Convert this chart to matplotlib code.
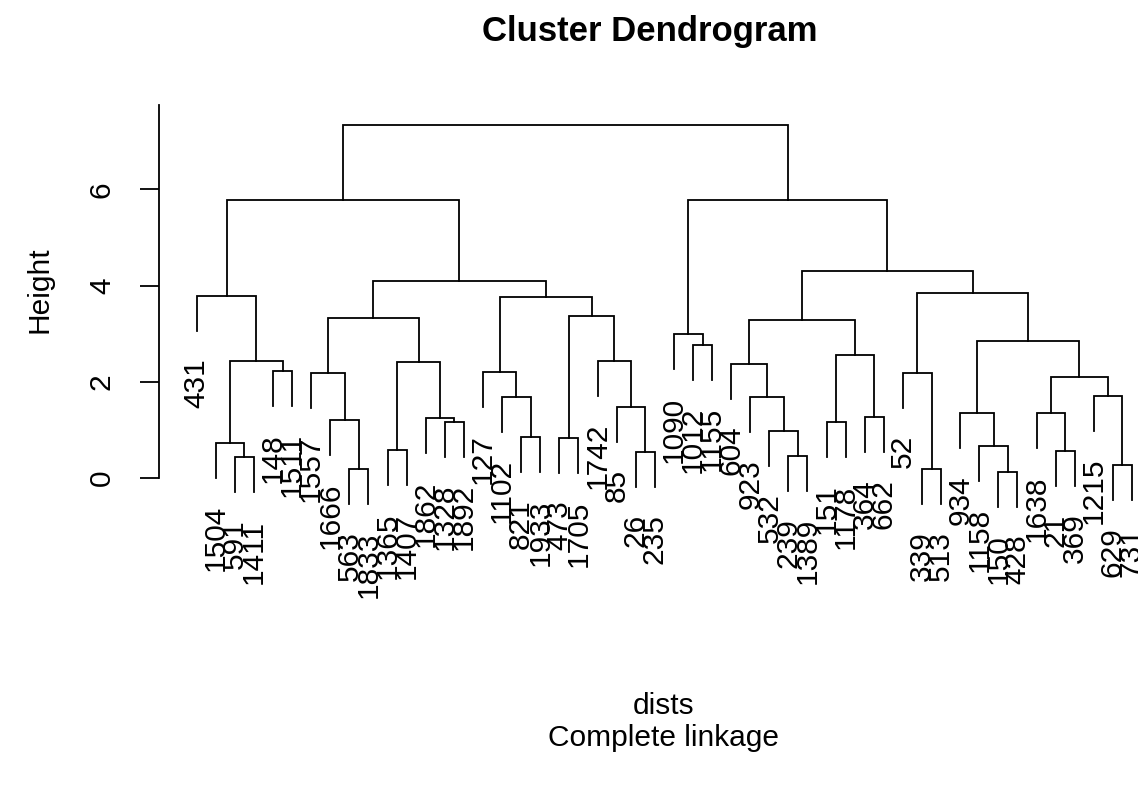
import matplotlib
matplotlib.use("Agg")
import matplotlib.pyplot as plt

plt.rcParams['font.family'] = ['Liberation Sans', 'DejaVu Sans']

# leaf labels in the order they appear from left to right
leaf_labels = ["431", "1504", "591", "1411", "148", "1511", "1557", "1666", "563", "1833",
               "1365", "1407", "1862", "1328", "1892", "127", "1102", "821", "1933", "473",
               "1705", "1742", "85", "26", "235", "1090", "1012", "1155", "604", "923",
               "532", "239", "1389", "151", "1178", "364", "662", "52", "339", "513",
               "934", "1158", "150", "428", "1638", "21", "369", "1215", "629", "731"]

# merges, R style: negative = leaf position, positive = earlier merge number
merge_left = [-43, -9, -39, -49, -3, -32, -24, -46, -11, -42,
              -2, -20, -18, -31, -34, -14, -8, -13, -36, -41,
              -45, -23, -17, -30, -48, 21, -7, -38, -16, -5,
              -29, 9, 11, -22, 15, -27, 20, -26, 31, 27,
              12, 29, -1, 28, 40, 39, 43, 38, 47]
merge_right = [-44, -10, -40, -50, -4, -33, -25, -47, -12, 1,
               5, -21, -19, 6, -35, -15, 2, 16, -37, 10,
               8, 7, 13, 14, 4, 25, 17, 3, 23, -6,
               24, 18, 30, 22, 19, -28, 26, 36, 35, 32,
               34, 41, 33, 37, 42, 44, 45, 46, 48]
merge_height = [0.12, 0.18, 0.19, 0.27, 0.43, 0.46, 0.55, 0.56, 0.58, 0.67,
                0.73, 0.83, 0.85, 0.98, 1.16, 1.17, 1.20, 1.24, 1.27, 1.35,
                1.35, 1.48, 1.69, 1.69, 1.71, 2.10, 2.18, 2.19, 2.21, 2.23,
                2.38, 2.42, 2.44, 2.44, 2.56, 2.77, 2.85, 2.99, 3.28, 3.32,
                3.37, 3.76, 3.79, 3.84, 4.09, 4.31, 5.78, 5.79, 7.34]
hang = 0.73

fig = plt.figure(figsize=(11.38, 8.08), dpi=100)
ax = fig.add_axes([0.13998, 0.3489, 0.8876, 0.5249])
n = len(leaf_labels)
ax.set_xlim(1 - 0.04 * (n - 1), n + 0.04 * (n - 1))
ax.set_ylim(-1.0, 7.82)

lw = 1.3
node_x = {}
node_y = {}
for i, (a, b, h) in enumerate(zip(merge_left, merge_right, merge_height), start=1):
    xs = []
    ys = []
    for c in (a, b):
        if c < 0:
            cx = -c
            cy = h - hang
            ax.annotate(leaf_labels[cx - 1], (cx, cy), xytext=(0, -19.5),
                        textcoords='offset points', rotation=90, ha='center',
                        va='top', fontsize=21.5, annotation_clip=False)
        else:
            cx, cy = node_x[c], node_y[c]
        xs.append(cx)
        ys.append(cy)
    ax.plot([xs[0], xs[0], xs[1], xs[1]], [ys[0], h, h, ys[1]],
            color='black', lw=lw, solid_joinstyle='miter', clip_on=False)
    node_x[i] = (xs[0] + xs[1]) / 2
    node_y[i] = h

for s in ['top', 'right', 'bottom']:
    ax.spines[s].set_visible(False)
ax.spines['left'].set_bounds(0, 7.75)
ax.spines['left'].set_linewidth(lw)
ax.set_xticks([])
ax.set_yticks([0, 2, 4, 6])
ax.set_yticklabels(['0', '2', '4', '6'], rotation=90, va='center')
ax.tick_params(axis='y', length=13.7, width=lw, pad=17.5, labelsize=21.5)

fig.text(650 / 1138, 1 - 32 / 808, "Cluster Dendrogram", ha='center', va='center',
         fontsize=25, fontweight='bold')
fig.text(40 / 1138, 1 - 290 / 808, "Height", rotation=90, ha='center', va='center',
         fontsize=21.5)
fig.text(664 / 1138, 1 - 706 / 808, "dists", ha='center', va='center', fontsize=21.5)
fig.text(664 / 1138, 1 - 738 / 808, "Complete linkage", ha='center', va='center',
         fontsize=21.5)

fig.savefig("out.png", dpi=100)
